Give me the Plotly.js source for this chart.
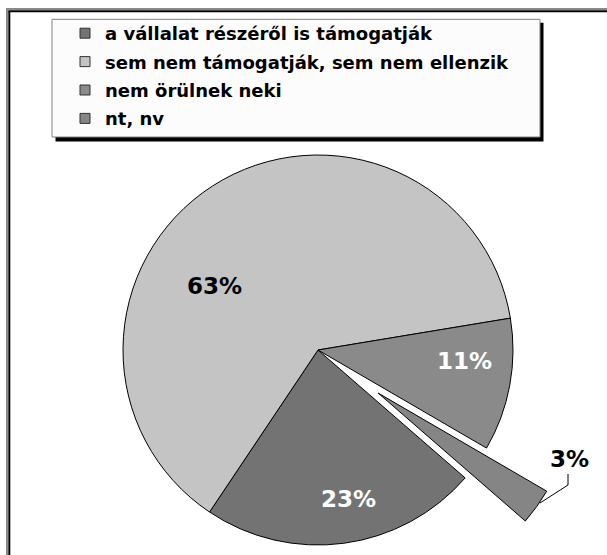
<!DOCTYPE html>
<html><head><meta charset="utf-8">
<script src="https://cdn.plot.ly/plotly-3.0.1.min.js"></script>
<style>html,body{margin:0;padding:0;overflow:hidden;background:#fff}#wrap{width:607px;height:555px;overflow:hidden;position:relative}</style>
</head><body><div id="wrap"><div id="chart"></div></div>
<script>
// ---- data ----
const categories = ["a vállalat részéről is támogatják", "sem nem támogatják, sem nem ellenzik", "nem örülnek neki", "nt, nv"];
const values = [23, 63, 11, 3];
const sliceColors = ["#737373", "#c4c4c4", "#8a8a8a", "#858585"];
const labelColors = ["#ffffff", "#000000", "#ffffff", "#000000"];

// ---- layout constants (pixels) ----
const W = 607, H = 640;          // figure is taller than the window; the wrapper clips it to 555
const cx = 318, cy = 350, R = 195;
const rotation = 131;
const pulledIndex = 3;
const pullPx = 74;
const labelPos = [[348, 499], [214, 286], [464, 361], [569, 459]];

const px = x => x / W;
const py = y => 1 - y / H;
const dom = (x, y, r) => ({x: [px(x - r), px(x + r)], y: [py(y + r), py(y - r)]});

// bisector of the pulled slice (clockwise from 12 o'clock)
const total = values.reduce((a, b) => a + b, 0);
const before = values.slice(0, pulledIndex).reduce((a, b) => a + b, 0);
const midDeg = rotation + (before + values[pulledIndex] / 2) / total * 360;
const th = midDeg * Math.PI / 180;
const cxB = cx + pullPx * Math.sin(th);
const cyB = cy - pullPx * Math.cos(th);

const clear = 'rgba(0,0,0,0)';
const traceMain = {
  type: 'pie', values: values, labels: categories, sort: false, direction: 'clockwise', rotation: rotation,
  domain: dom(cx, cy, R), textinfo: 'none', hoverinfo: 'none', showlegend: false,
  marker: {colors: sliceColors.map((c, i) => i === pulledIndex ? clear : c),
           line: {color: '#000', width: values.map((v, i) => i === pulledIndex ? 0 : 1)}}
};
const tracePulled = {
  type: 'pie', values: values, labels: categories, sort: false, direction: 'clockwise', rotation: rotation,
  domain: dom(cxB, cyB, R), textinfo: 'none', hoverinfo: 'none', showlegend: false,
  marker: {colors: sliceColors.map((c, i) => i === pulledIndex ? c : clear),
           line: {color: '#000', width: values.map((v, i) => i === pulledIndex ? 1 : 0)}}
};
const legendTraces = categories.map((name, i) => ({
  type: 'scatter', x: [null], y: [null], mode: 'markers', name: name, legendgroup: 'g' + i,
  hoverinfo: 'skip',
  marker: {symbol: 'square', size: 10, color: sliceColors[i], line: {color: '#333', width: 1}}
}));

const annotations = values.map((v, i) => ({
  xref: 'paper', yref: 'paper', x: px(labelPos[i][0]), y: py(labelPos[i][1]),
  xanchor: 'center', yanchor: 'middle', showarrow: false, text: v + '%',
  font: {family: 'DejaVu Sans', size: 23, weight: 700, color: labelColors[i]}
}));

const line = (x0, y0, x1, y1, color, width) => ({type: 'line', xref: 'paper', yref: 'paper',
  x0: px(x0), y0: py(y0), x1: px(x1), y1: py(y1), line: {color: color, width: width}});
const rect = (x0, y0, x1, y1, fill, lc, lw) => ({type: 'rect', xref: 'paper', yref: 'paper',
  x0: px(x0), y0: py(y0), x1: px(x1), y1: py(y1), fillcolor: fill, line: {color: lc, width: lw}});

const shapes = [
  // outer frame
  line(7, 9, 7, 640, '#8a8a8a', 2),
  line(6, 9, 607, 9, '#8a8a8a', 2),
  line(9.3, 11.3, 9.3, 640, '#000', 2),
  line(8.3, 11.3, 607, 11.3, '#000', 2),
  // legend box with shadow
  rect(55.5, 22.7, 543.5, 141.5, '#000', '#000', 0),
  rect(52, 19.3, 540, 137, '#fcfcfc', '#808080', 1),
  // leader line for the pulled label
  {type: 'path', xref: 'paper', yref: 'paper',
   path: `M ${px(540)},${py(503)} L ${px(568)},${py(485)} L ${px(568)},${py(474)}`,
   line: {color: '#000', width: 1}}
];

const layout = {
  width: W, height: H, margin: {l: 0, r: 0, t: 0, b: 0},
  paper_bgcolor: '#fff', plot_bgcolor: 'rgba(0,0,0,0)',
  xaxis: {visible: false}, yaxis: {visible: false},
  showlegend: true,
  legend: {x: px(65), xanchor: 'left', y: py(15), yanchor: 'top', bgcolor: 'rgba(0,0,0,0)', borderwidth: 0,
           tracegroupgap: 2, font: {family: 'DejaVu Sans', size: 18, weight: 700, color: '#000'}},
  annotations: annotations, shapes: shapes
};

Plotly.newPlot('chart', [traceMain, tracePulled].concat(legendTraces), layout, {staticPlot: true, displayModeBar: false});
</script></body></html>
